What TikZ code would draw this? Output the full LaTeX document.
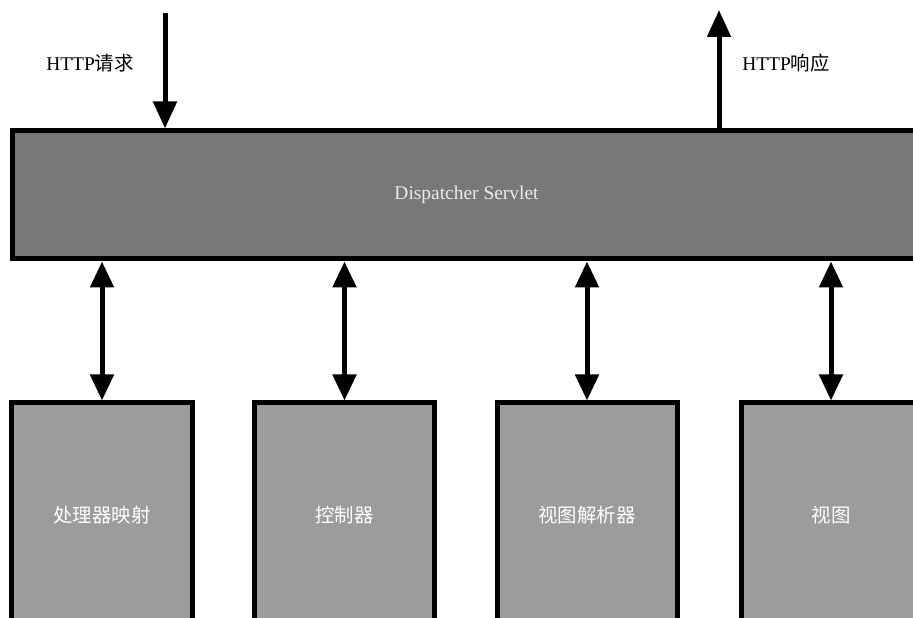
\documentclass[tikz,border=0pt]{standalone}
\usepackage{fontspec}
\setmainfont{Liberation Serif}
\newfontfamily\cjk{Noto Sans CJK SC}
\usetikzlibrary{arrows.meta}

\tikzset{
  big/.style={draw, line width=5bp, fill=black!53, text=black!8, minimum width=907bp, minimum height=128bp, font=\fontsize{19.5}{22}\selectfont},
  part/.style={draw, line width=5bp, fill=black!39, text=white, minimum width=180bp, minimum height=224bp, font=\fontsize{19.5}{22}\selectfont\cjk},
  flow/.style={line width=5bp, -{Triangle[length=27bp,width=23bp]}},
  both/.style={line width=5bp, {Triangle[length=26bp,width=23bp]}-{Triangle[length=26bp,width=23bp]}}
}

\begin{document}
\begin{tikzpicture}[x=1bp,y=1bp]
\useasboundingbox (0,0) rectangle (913,618);
\node[big] (ds) at (466.5,423) {Dispatcher Servlet};
\node[part] (hm) at (102,103) {处理器映射};
\node[part] (ctl) at (344.5,103) {控制器};
\node[part] (vr) at (587,103) {视图解析器};
\node[part] (vw) at (831,103) {视图};
\coordinate (req) at (165,605);
\coordinate (resp) at (719,608);
\node[font=\fontsize{19.5}{22}\selectfont] (lreq) at (90,555) {HTTP{\cjk 请求}};
\node[font=\fontsize{19.5}{22}\selectfont] (lresp) at (786,555) {HTTP{\cjk 响应}};
\draw[flow] (req) -- (req |- ds.north);
\draw[flow] (resp |- ds.north) -- (resp);
\draw[both] (ds.south -| hm.north) -- (hm.north);
\draw[both] (ds.south -| ctl.north) -- (ctl.north);
\draw[both] (ds.south -| vr.north) -- (vr.north);
\draw[both] (ds.south -| vw.north) -- (vw.north);
\end{tikzpicture}
\end{document}
